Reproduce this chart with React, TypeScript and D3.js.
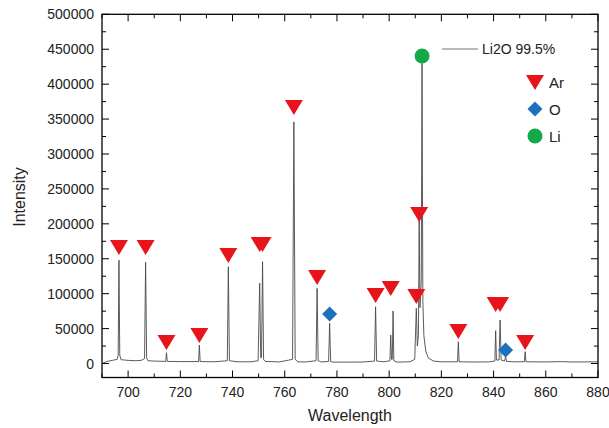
import React from "react";
import * as d3 from "d3";

// spectrum: [wavelength, intensity]
const spectrum: [number, number][] = [
  [690, 0], [691, 1500], [692, 3000], [694, 4500], [695.8, 6000], [696.2, 12000], [696.5, 148000], [696.8, 12000],
  [697.3, 5500], [700, 4500], [703, 4000], [705, 4500], [706.3, 7000], [706.7, 145000], [707.1, 8000], [707.6, 4000],
  [710, 3500], [714.4, 3000], [714.7, 15500], [715.0, 3000], [720, 2800], [727, 2800], [727.3, 26500], [727.6, 2800],
  [733, 2500], [738.0, 4000], [738.4, 138600], [738.8, 4000], [742, 2500], [747, 2500], [749.8, 4000], [750.4, 115000],
  [750.8, 8000], [751.1, 9000], [751.5, 145800], [751.9, 6000], [752.5, 3000], [758, 2300], [763.0, 6000], [763.5, 346000],
  [764.0, 6000], [765, 2500], [768, 2200], [772.0, 4000], [772.4, 107600], [772.8, 4000], [774, 2300], [776.8, 3000],
  [777.2, 57500], [777.6, 3000], [778.5, 2000], [785, 2000], [790, 2200], [794.4, 3500], [794.8, 81300], [795.2, 3500],
  [798, 2500], [800.3, 4000], [800.6, 40800], [800.9, 6000], [801.2, 6000], [801.5, 75200], [801.8, 4000], [803, 2000],
  [808, 2500], [809.8, 6000], [810.4, 79000], [810.8, 25000], [811.2, 40000], [811.5, 205500], [811.8, 80000],
  [812.3, 120000], [812.6, 430000], [812.9, 90000], [813.3, 40000], [814, 18000], [815, 8000], [817, 3500], [820, 2500],
  [826.2, 2500], [826.5, 31200], [826.8, 2500], [832, 2200], [838, 2300], [840.5, 3500], [840.8, 47000], [841.1, 5000],
  [842.1, 5000], [842.5, 62300], [842.9, 5000], [844.2, 3500], [844.6, 9700], [845, 3000], [848, 2500], [851.8, 2500],
  [852.1, 17000], [852.4, 2500], [860, 2300], [866, 2700], [870, 2200], [875, 2300], [880, 2500],
];

// marker labels: [wavelength, marker height]
const arMarks: [number, number][] = [
  [696.5, 166800], [706.7, 166800], [714.7, 30800], [727.3, 40800], [738.4, 155400], [750.4, 171100], [751.5, 171100],
  [763.5, 367300], [772.4, 123900], [794.8, 98100], [800.6, 108100], [810.4, 96700], [811.5, 214000], [826.5, 46500],
  [840.8, 85200], [842.5, 85200], [852.1, 30800],
];
const oMarks: [number, number][] = [[777.2, 70900], [844.6, 19300]];
const liMarks: [number, number][] = [[812.6, 440300]];

const yTicks = [0, 50000, 100000, 150000, 200000, 250000, 300000, 350000, 400000, 450000, 500000];
const xTicks = [700, 720, 740, 760, 780, 800, 820, 840, 860, 880];

const RED = "#e8141c";
const BLUE = "#1f6fbf";
const GREEN = "#14a84b";
const FONT = "Liberation Sans, Arial, sans-serif";

const triangle = (cx, cy) => `M${cx - 9},${cy - 7}L${cx + 9},${cy - 7}L${cx},${cy + 8}Z`;
const diamond = (cx, cy) => `M${cx},${cy - 7.5}L${cx + 7.5},${cy}L${cx},${cy + 7.5}L${cx - 7.5},${cy}Z`;

export default function App() {
  const left = 102, right = 598, top = 14.3, bottom = 377.5;
  const x = d3.scaleLinear().domain([690, 880]).range([left, right]);
  const y = d3.scaleLinear().domain([-20000, 500000]).range([bottom, top]);

  const line = d3.line<[number, number]>().x(d => x(d[0])).y(d => y(d[1]));
  const xMinor = d3.range(690, 881, 10);
  const yMinor = d3.range(0, 500001, 25000);

  return (
    <svg width={609} height={428} style={{ position: "absolute", left: 0, top: 0, background: "#fff" }} fontFamily={FONT}>
      <path d={line(spectrum) ?? ""} fill="none" stroke="#4a4a4a" strokeWidth={0.9} />

      {/* ticks, inward on all four sides */}
      {xMinor.map(v => {
        const len = v % 20 === 0 ? 7 : 4;
        return (
          <g key={"x" + v} stroke="#000" strokeWidth={1}>
            <line x1={x(v)} x2={x(v)} y1={bottom} y2={bottom - len} />
            <line x1={x(v)} x2={x(v)} y1={top} y2={top + len} />
          </g>
        );
      })}
      {yMinor.map(v => {
        const len = v % 50000 === 0 ? 7 : 4;
        return (
          <g key={"y" + v} stroke="#000" strokeWidth={1}>
            <line x1={left} x2={left + len} y1={y(v)} y2={y(v)} />
            <line x1={right} x2={right - len} y1={y(v)} y2={y(v)} />
          </g>
        );
      })}
      <rect x={left} y={top} width={right - left} height={bottom - top} fill="none" stroke="#000" strokeWidth={1.3} />

      {xTicks.map(v => (
        <text key={"xl" + v} x={x(v)} y={397} textAnchor="middle" fontSize={14} fill="#222">{v}</text>
      ))}
      {yTicks.map(v => (
        <text key={"yl" + v} x={94} y={y(v) + 5} textAnchor="end" fontSize={14} fill="#222">{v}</text>
      ))}

      <text x={350} y={421} textAnchor="middle" fontSize={16} fill="#222">Wavelength</text>
      <text transform="translate(25,197) rotate(-90)" textAnchor="middle" fontSize={16} fill="#222">Intensity</text>

      {arMarks.map(([w, v], i) => (
        <path key={"ar" + i} d={triangle(x(w), y(v))} fill={RED} />
      ))}
      {oMarks.map(([w, v], i) => (
        <path key={"o" + i} d={diamond(x(w), y(v))} fill={BLUE} />
      ))}
      {liMarks.map(([w, v], i) => (
        <circle key={"li" + i} cx={x(w)} cy={y(v)} r={7.5} fill={GREEN} />
      ))}

      {/* legend */}
      <line x1={442} x2={478} y1={49} y2={49} stroke="#777" strokeWidth={1} />
      <text x={482} y={54} fontSize={14} fill="#222">Li2O 99.5%</text>
      <path d={triangle(535, 82)} fill={RED} />
      <text x={549} y={88} fontSize={15} fill="#222">Ar</text>
      <path d={diamond(535, 109)} fill={BLUE} />
      <text x={549} y={115} fontSize={15} fill="#222">O</text>
      <circle cx={535} cy={136} r={7.5} fill={GREEN} />
      <text x={549} y={142} fontSize={15} fill="#222">Li</text>
    </svg>
  );
}
